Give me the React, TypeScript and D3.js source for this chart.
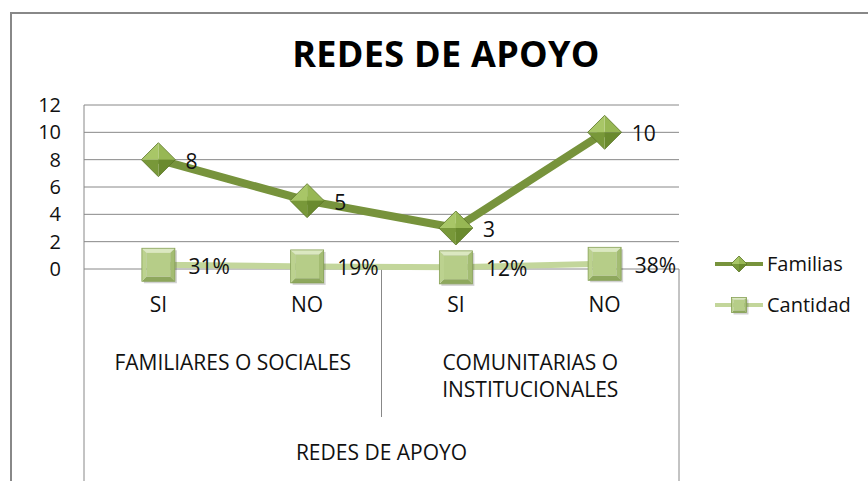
import React, { useEffect, useRef } from 'react';
import * as d3 from 'd3';

const chartTitle = 'REDES DE APOYO';
const axisTitle = 'REDES DE APOYO';
const categories = ['SI', 'NO', 'SI', 'NO'];
const groupLabels = [['FAMILIARES O SOCIALES'], ['COMUNITARIAS O', 'INSTITUCIONALES']];
const familias = [8, 5, 3, 10];
const cantidad = [0.31, 0.19, 0.12, 0.38];
const cantidadLabels = ['31%', '19%', '12%', '38%'];
const yTicks = [0, 2, 4, 6, 8, 10, 12];
const seriesNames = ['Familias', 'Cantidad'];

const FONT = "'Open Sans', sans-serif";

const App = () => {
    const ref = useRef<SVGSVGElement>(null);

    useEffect(() => {
        drawChart();
    }, []);

    const drawChart = () => {
        const width = 868, height = 481;
        const plot = { left: 84, right: 679, top: 105, bottom: 269 };

        const svg = d3.select(ref.current);
        svg.selectAll('*').remove();
        svg.attr('width', width).attr('height', height);

        svg.append('rect').attr('width', width).attr('height', height).attr('fill', '#fff');

        // outer chart border (cut by the picture on right and bottom)
        svg.append('path')
            .attr('d', `M11,${height + 5} L11,13 L${width + 5},13`)
            .attr('fill', 'none')
            .attr('stroke', '#888')
            .attr('stroke-width', 2);

        svg.append('text')
            .attr('x', 446).attr('y', 67)
            .attr('text-anchor', 'middle')
            .style('font-family', FONT)
            .style('font-weight', 700)
            .style('font-size', '36px')
            .style('letter-spacing', '0.3px')
            .text(chartTitle);

        const x = d3.scaleBand<number>()
            .domain(d3.range(categories.length))
            .range([plot.left, plot.right]);
        const y = d3.scaleLinear().domain([0, 12]).range([plot.bottom, plot.top]);
        const cx = (i: number) => (x(i) as number) + x.bandwidth() / 2;

        // gridlines
        svg.append('g').selectAll('line')
            .data(yTicks)
            .enter().append('line')
            .attr('x1', plot.left).attr('x2', plot.right)
            .attr('y1', d => y(d)).attr('y2', d => y(d))
            .attr('stroke', '#888').attr('stroke-width', 1);

        svg.append('g').selectAll('text')
            .data(yTicks)
            .enter().append('text')
            .attr('x', 61).attr('y', d => y(d) + 7)
            .attr('text-anchor', 'end')
            .style('font-family', FONT).style('font-size', '20px').style('fill', '#111')
            .text(d => d);

        // axis lines of the multi-level category axis
        svg.append('line').attr('x1', plot.left).attr('x2', plot.left)
            .attr('y1', plot.top).attr('y2', height).attr('stroke', '#888');
        svg.append('line').attr('x1', plot.right).attr('x2', plot.right)
            .attr('y1', plot.bottom).attr('y2', height).attr('stroke', '#888');
        const mid = x(2) as number;
        svg.append('line').attr('x1', mid).attr('x2', mid)
            .attr('y1', plot.bottom).attr('y2', 417).attr('stroke', '#888');

        svg.append('g').selectAll('text')
            .data(categories)
            .enter().append('text')
            .attr('x', (d, i) => cx(i)).attr('y', 312)
            .attr('text-anchor', 'middle')
            .style('font-family', FONT).style('font-size', '21px').style('fill', '#111')
            .text(d => d);

        groupLabels.forEach((lines, gi) => {
            const gx = ((x(gi * 2) as number) + (x(gi * 2 + 1) as number) + x.bandwidth()) / 2;
            lines.forEach((t, li) => {
                svg.append('text')
                    .attr('x', gx).attr('y', 370 + li * 27)
                    .attr('text-anchor', 'middle')
                    .style('font-family', FONT).style('font-size', '21px').style('fill', '#111')
                    .text(t);
            });
        });

        svg.append('text')
            .attr('x', (plot.left + plot.right) / 2).attr('y', 460)
            .attr('text-anchor', 'middle')
            .style('font-family', FONT).style('font-size', '21px').style('fill', '#111')
            .text(axisTitle);

        // marker helpers
        const diamond = (g: any, px: number, py: number, r: number) => {
            // facets: top-right, bottom-right, bottom-left, top-left
            const shades = ['#97b754', '#6a8a2e', '#789839', '#a8c667'];
            const pts = [[0, -r], [r, 0], [0, r], [-r, 0]];
            pts.forEach((p, k) => {
                const q = pts[(k + 1) % 4];
                g.append('path')
                    .attr('d', `M${px},${py} L${px + p[0]},${py + p[1]} L${px + q[0]},${py + q[1]} Z`)
                    .attr('fill', shades[k]);
            });
            g.append('path')
                .attr('d', `M${px},${py - r} L${px + r},${py} L${px},${py + r} L${px - r},${py} Z`)
                .attr('fill', 'none').attr('stroke', '#5a7526').attr('stroke-width', 0.8);
        };

        const square = (g: any, px: number, py: number, r: number) => {
            g.append('rect')
                .attr('x', px - r + 2).attr('y', py - r + 2)
                .attr('width', 2 * r).attr('height', 2 * r)
                .attr('fill', '#000').attr('opacity', 0.18);
            const b = r * 0.28;
            const x0 = px - r, x1 = px + r, y0 = py - r, y1 = py + r;
            const faces = [
                [`M${x0},${y0} L${x1},${y0} L${x1 - b},${y0 + b} L${x0 + b},${y0 + b} Z`, '#dbe8c1'],
                [`M${x1},${y0} L${x1},${y1} L${x1 - b},${y1 - b} L${x1 - b},${y0 + b} Z`, '#a3bc72'],
                [`M${x1},${y1} L${x0},${y1} L${x0 + b},${y1 - b} L${x1 - b},${y1 - b} Z`, '#8ea85d'],
                [`M${x0},${y1} L${x0},${y0} L${x0 + b},${y0 + b} L${x0 + b},${y1 - b} Z`, '#bcd28f'],
            ];
            faces.forEach(f => g.append('path').attr('d', f[0]).attr('fill', f[1]));
            g.append('rect')
                .attr('x', x0 + b).attr('y', y0 + b)
                .attr('width', 2 * (r - b)).attr('height', 2 * (r - b))
                .attr('fill', '#b6cd88');
            g.append('rect')
                .attr('x', x0).attr('y', y0).attr('width', 2 * r).attr('height', 2 * r)
                .attr('fill', 'none').attr('stroke', '#86a055').attr('stroke-width', 0.8);
        };

        const line = d3.line<number>().x((d, i) => cx(i)).y(d => y(d));

        // Cantidad series
        svg.append('path').datum(cantidad)
            .attr('d', line)
            .attr('fill', 'none').attr('stroke', '#c3d69b').attr('stroke-width', 6);

        // Familias series
        svg.append('path').datum(familias)
            .attr('d', line)
            .attr('fill', 'none').attr('stroke', '#77933c').attr('stroke-width', 8)
            .attr('stroke-linejoin', 'round');

        const mk = svg.append('g');
        cantidad.forEach((v, i) => square(mk, cx(i), y(v), 16.5));
        familias.forEach((v, i) => diamond(mk, cx(i), y(v), 17));

        const labels = svg.append('g')
            .style('font-family', FONT).style('font-size', '21px').style('fill', '#111');
        familias.forEach((v, i) => {
            labels.append('text').attr('x', cx(i) + 27).attr('y', y(v) + 9).text(v);
        });
        cantidad.forEach((v, i) => {
            labels.append('text').attr('x', cx(i) + 30).attr('y', y(v) + 9).text(cantidadLabels[i]);
        });

        // legend
        const lg = svg.append('g');
        const legendY = [264, 305];
        lg.append('line').attr('x1', 715).attr('x2', 763)
            .attr('y1', legendY[0]).attr('y2', legendY[0])
            .attr('stroke', '#77933c').attr('stroke-width', 4);
        diamond(lg, 739, legendY[0], 8);
        lg.append('line').attr('x1', 715).attr('x2', 763)
            .attr('y1', legendY[1]).attr('y2', legendY[1])
            .attr('stroke', '#c3d69b').attr('stroke-width', 4);
        square(lg, 739, legendY[1], 7.5);
        seriesNames.forEach((n, i) => {
            lg.append('text').attr('x', 767).attr('y', legendY[i] + 7)
                .style('font-family', FONT).style('font-size', '20px').style('fill', '#111')
                .text(n);
        });
    };

    return <svg ref={ref} style={{ position: 'absolute', left: 0, top: 0 }}></svg>;
};

export default App;
